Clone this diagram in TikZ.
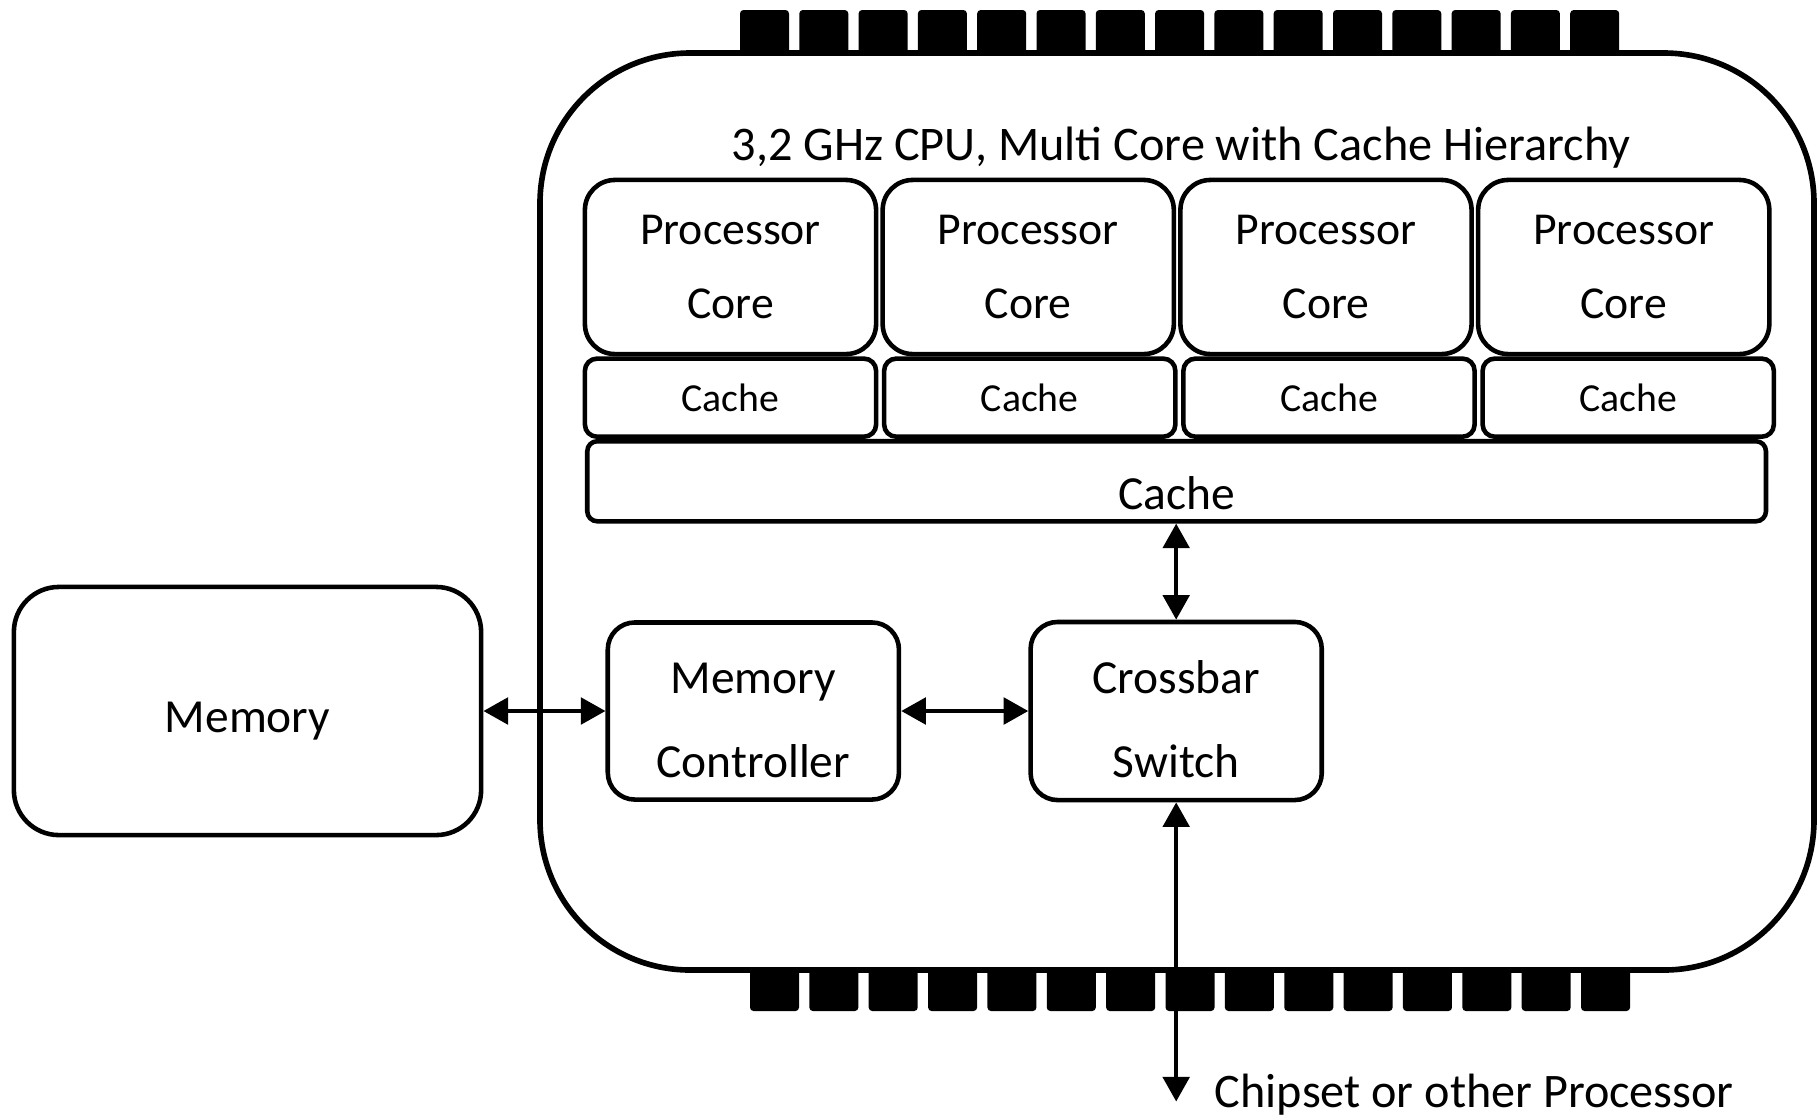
\documentclass[tikz,border=0pt]{standalone}
\usepackage{fontspec}
\setmainfont{Carlito}
\usetikzlibrary{positioning,arrows.meta}

\newcommand{\topgap}{\rule{0pt}{14.2pt}}

\tikzset{
  corebox/.style={draw, line width=1.3pt, rounded corners=0.3cm, minimum width=2.91cm, minimum height=1.74cm, inner sep=0pt, align=center, font=\fontsize{13}{15.6}\selectfont},
  cachebox/.style={draw, line width=1.3pt, rounded corners=0.12cm, minimum width=2.91cm, minimum height=0.78cm, inner sep=0pt, font=\fontsize{11.3}{13.5}\selectfont},
  unitbox/.style={draw, line width=1.3pt, rounded corners=0.27cm, minimum width=2.91cm, minimum height=1.78cm, inner sep=0pt, align=center, font=\fontsize{13.5}{16.2}\selectfont},
  link/.style={<->, >={Triangle[length=7pt, width=7.5pt]}, line width=1.2pt},
  pin/.style={fill=black, rounded corners=1pt},
}

\begin{document}
\begin{tikzpicture}[x=0.01cm, y=-0.01cm]
			\useasboundingbox (0,0) rectangle (1818,1117);

			% pins of the package
			\foreach \i in {0,...,14} {
				\fill[pin] ({740+59.3*\i},10) rectangle ++(49,50);
				\fill[pin] ({750+59.36*\i},962) rectangle ++(49,49);
			}
			\draw[line width=1.6pt, fill=white, rounded corners=1.5cm] (540,53) rectangle (1814,970);

			\node[corebox] (core1) at (730.5,267) {Processor\\[5.4pt]Core};
			\node[corebox, right=0.02cm of core1] (core2) {Processor\\[5.4pt]Core};
			\node[corebox, right=0.02cm of core2] (core3) {Processor\\[5.4pt]Core};
			\node[corebox, right=0.02cm of core3] (core4) {Processor\\[5.4pt]Core};

			\node[cachebox, below=0cm of core1] (l1a) {Cache};
			\node[cachebox, right=0.035cm of l1a] (l1b) {Cache};
			\node[cachebox, right=0.035cm of l1b] (l1c) {Cache};
			\node[cachebox, right=0.035cm of l1c] (l1d) {Cache};

			\node[above=0.09cm of core2.north east, xshift=0.05cm, inner sep=0pt, font=\fontsize{13.73}{16.5}\selectfont] (title) {3,2 GHz CPU, Multi Core with Cache Hierarchy};
			\node[cachebox, below=0cm of l1b.south east, xshift=-0.01cm, minimum width=11.78cm, minimum height=0.8cm, rounded corners=0.1cm, font=\fontsize{13.5}{16.2}\selectfont, text height=16pt, text depth=0pt] (llc) {Cache};

			\node[unitbox, minimum width=4.67cm, minimum height=2.48cm, rounded corners=0.45cm] (mem) at (247.5,711) {\topgap Memory};
			\node[unitbox, right=1.22cm of mem, minimum height=1.77cm] (memctrl) {\topgap Memory\\[7.7pt]Controller};
			\node[unitbox, right=1.27cm of memctrl] (xbar) {\topgap Crossbar\\[7.7pt]Switch};

			\coordinate[below=2.99cm of xbar.south] (chip);
			\node[right=0.38cm of chip, yshift=0.065cm, inner sep=0pt, font=\fontsize{13.7}{16.4}\selectfont] (chiplbl) {Chipset or other Processor};

			\draw[link] (mem.east) -- (memctrl.west);
			\draw[link] (memctrl.east) -- (xbar.west);
			\draw[link] (llc.south -| xbar.north) -- (xbar.north);
			\draw[link] (xbar.south) -- (chip);
		\end{tikzpicture}
\end{document}
